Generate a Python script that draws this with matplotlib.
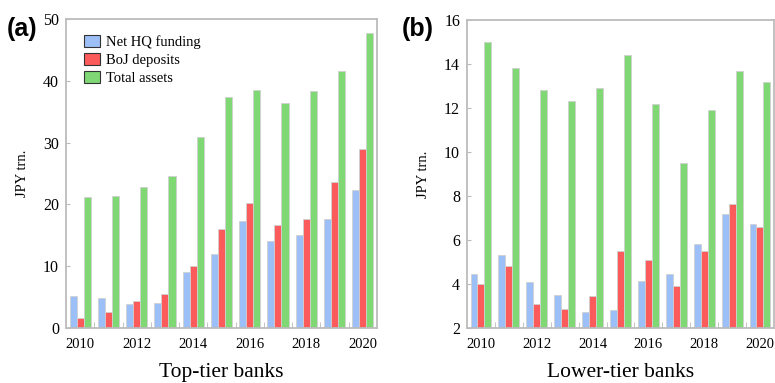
import matplotlib
matplotlib.use("Agg")
import numpy as np
import matplotlib.pyplot as plt
from matplotlib.patches import Patch

years = list(range(2010, 2021))
series = ["Net HQ funding", "BoJ deposits", "Total assets"]
colors = ["#9dbff7", "#fb5b5b", "#80d874"]

# top-tier banks (JPY trn.)
top_hq = [5.2, 4.9, 3.9, 4.1, 9.0, 12.0, 17.3, 14.1, 15.1, 17.6, 22.3]
top_boj = [1.6, 2.6, 4.4, 5.5, 10.0, 16.0, 20.3, 16.6, 17.6, 23.6, 29.0]
top_total = [21.2, 21.4, 22.8, 24.6, 30.9, 37.3, 38.5, 36.4, 38.3, 41.6, 47.8]

# lower-tier banks (JPY trn.)
low_hq = [4.45, 5.3, 4.1, 3.5, 2.75, 2.8, 4.15, 4.45, 5.8, 7.2, 6.75]
low_boj = [4.0, 4.8, 3.1, 2.85, 3.45, 5.5, 5.1, 3.9, 5.5, 7.65, 6.6]
low_total = [15.0, 13.8, 12.8, 12.3, 12.9, 14.4, 12.2, 9.5, 11.9, 13.7, 13.2]

plt.rcParams['font.family'] = ['Liberation Serif', 'DejaVu Serif']

fig = plt.figure(figsize=(7.75, 3.83), dpi=100)
ax_a = fig.add_axes([0.0852, 0.1436, 0.401, 0.807])
ax_b = fig.add_axes([0.6026, 0.1436, 0.396, 0.804])

spine_col = "#bcbcbc"
w = 0.25
x = np.arange(len(years))


def draw(ax, data, ylim, yticks, title):
    for i, vals in enumerate(data):
        ax.bar(x + (i - 1) * w, np.array(vals) - ylim[0], width=w, bottom=ylim[0],
               color=colors[i], edgecolor="#d0d0d0", linewidth=0.6, zorder=2)
    ax.set_xlim(-0.5, len(years) - 0.5)
    ax.set_ylim(*ylim)
    ax.set_yticks(yticks)
    ax.set_xticks(x[::2])
    ax.set_xticklabels([str(y) for y in years[::2]])
    ax.set_xticks(np.arange(0.5, len(years) - 1, 1), minor=True)
    ax.tick_params(axis="x", which="major", length=0, labelsize=10.5, pad=7)
    ax.tick_params(axis="x", which="minor", direction="in", length=4, color=spine_col)
    ax.tick_params(axis="y", direction="in", length=3, color=spine_col, labelsize=11.5, pad=5)
    for s in ax.spines.values():
        s.set_color(spine_col)
        s.set_linewidth(1.3)
    ax.set_ylabel("JPY trn.", fontsize=10.5, labelpad=10)
    ax.set_xlabel(title, fontsize=15.5, labelpad=9)


draw(ax_a, [top_hq, top_boj, top_total], (0, 50), range(0, 51, 10), "Top-tier banks")
draw(ax_b, [low_hq, low_boj, low_total], (2, 16), range(2, 17, 2), "Lower-tier banks")

handles = [Patch(facecolor=c, edgecolor="#333333", linewidth=0.8) for c in colors]
ax_a.legend(handles, series, loc="upper left", frameon=False, fontsize=10.5,
            handlelength=1.1, handleheight=0.85, handletextpad=0.45, labelspacing=0.28,
            bbox_to_anchor=(0.015, 0.99))

fig.text(0.009, 0.905, "(a)", fontsize=18, fontweight="bold", family="Liberation Sans")
fig.text(0.519, 0.905, "(b)", fontsize=18, fontweight="bold", family="Liberation Sans")

fig.savefig("out.png", dpi=100)
